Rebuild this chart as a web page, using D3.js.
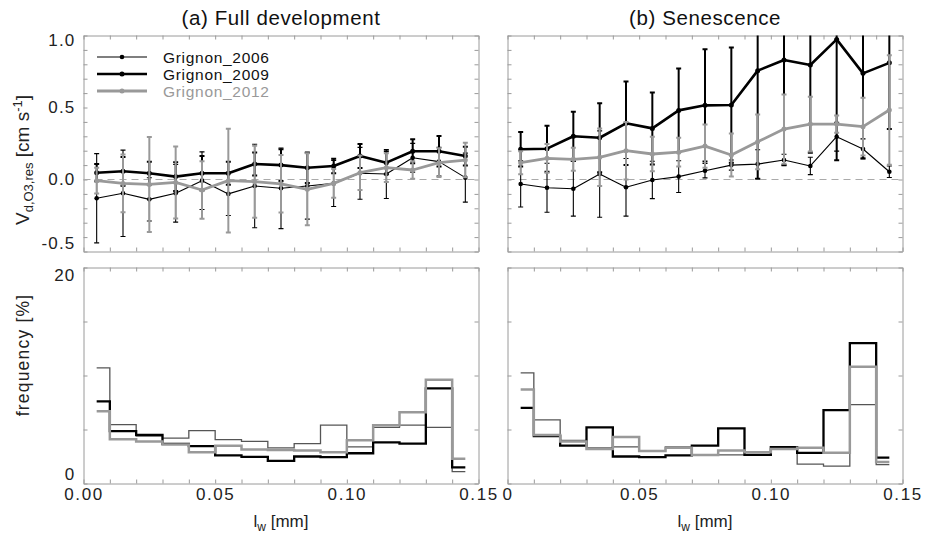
<!DOCTYPE html>
<html><head><meta charset="utf-8">
<script src="https://cdn.jsdelivr.net/npm/d3@7"></script>
<style>
body{margin:0;background:#fff;}
svg{display:block;font-family:"Liberation Sans",Arial,Helvetica,sans-serif;}
</style></head><body>
<svg id="c" width="925" height="542"></svg>
<script>
// ---------- data ----------
const lw = [0.005,0.015,0.025,0.035,0.045,0.055,0.065,0.075,0.085,0.095,0.105,0.115,0.125,0.135,0.145];
const seriesNames = ["Grignon_2006","Grignon_2009","Grignon_2012"];

// (a) Full development : deposition velocity (mean, error)
const v2006Full = [-0.13,-0.096,-0.138,-0.096,-0.008,-0.10,-0.045,-0.061,-0.045,-0.027,0.043,0.038,0.151,0.124,0.013];
const e2006Full = [0.31,0.30,0.15,0.20,0.20,0.15,0.29,0.28,0.23,0.16,0.18,0.17,0.10,0.10,0.17];
const v2009Full = [0.047,0.057,0.043,0.02,0.043,0.043,0.108,0.10,0.082,0.094,0.163,0.117,0.196,0.196,0.163];
const e2009Full = [0.06,0.10,0.08,0.10,0.12,0.08,0.08,0.11,0.106,0.05,0.083,0.08,0.083,0.106,0.065];
const v2012Full = [-0.008,-0.027,-0.034,-0.02,-0.073,-0.008,-0.015,-0.03,-0.068,-0.027,0.047,0.082,0.066,0.117,0.135];
const e2012Full = [0.09,0.20,0.33,0.25,0.20,0.36,0.25,0.20,0.25,0.10,0.12,0.10,0.06,0.10,0.12];

// (b) Senescence
const v2006Sen = [-0.031,-0.057,-0.064,0.038,-0.054,-0.003,0.02,0.061,0.10,0.107,0.135,0.094,0.297,0.212,0.054];
const e2006Sen = [0.16,0.17,0.19,0.30,0.20,0.13,0.11,0.05,0.035,0.10,0.04,0.06,0.10,0.07,0.04];
const v2009Sen = [0.21,0.214,0.30,0.29,0.39,0.355,0.48,0.515,0.517,0.756,0.83,0.795,0.973,0.737,0.81];
const e2009Sen = [0.12,0.16,0.17,0.24,0.29,0.25,0.29,0.39,0.40,0.75,0.73,0.61,0.84,0.59,0.46];
const v2012Sen = [0.117,0.147,0.14,0.154,0.20,0.177,0.19,0.232,0.17,0.262,0.35,0.385,0.385,0.367,0.483];
const e2012Sen = [0.08,0.10,0.08,0.20,0.20,0.12,0.10,0.15,0.15,0.19,0.24,0.19,0.06,0.20,0.38];

// frequency [%]
const f2006Full = [10.7,5.46,4.4,4.2,4.9,4.07,3.9,3.3,3.7,5.4,3.4,5.2,5.4,5.2,1.1];
const f2009Full = [7.6,4.85,4.5,3.67,3.46,2.6,2.47,2.1,2.5,2.45,2.8,3.8,3.7,8.8,1.5];
const f2012Full = [6.7,4.1,3.9,3.6,2.9,3.5,3.15,3.1,3.05,2.9,4.0,5.4,6.6,9.6,2.3];
const f2006Sen = [10.25,5.9,4.0,3.3,3.4,3.05,3.4,2.65,2.65,2.9,3.2,1.8,1.6,7.3,1.75];
const f2009Sen = [7.0,4.4,3.5,5.2,2.5,2.45,2.6,3.5,5.1,2.65,3.36,2.84,6.8,13.0,2.4];
const f2012Sen = [8.7,4.5,3.9,3.2,4.3,3.0,3.3,2.65,3.05,2.9,3.2,3.3,2.84,10.8,2.0];

// ticks / labels
const xMinorTicks = [0,0.01,0.02,0.03,0.04,0.05,0.06,0.07,0.08,0.09,0.10,0.11,0.12,0.13,0.14,0.15];
const xMajorTicks = [0,0.05,0.10,0.15];
const xLabelsA = ["0.00","0.05","0.10","0.15"];
const xLabelsB = ["0","0.05","0.10","0.15"];
const vTicksMinor = [-0.5,-0.4,-0.3,-0.2,-0.1,0,0.1,0.2,0.3,0.4,0.5,0.6,0.7,0.8,0.9,1.0];
const vTickLabels = [-0.5,0.0,0.5,1.0];
const fTicks = [0,5,10,15,20];
const fTickLabels = [0,20];
const titles = ["(a) Full development","(b) Senescence"];

// ---------- layout ----------
const svg = d3.select("#c");
const topY = d3.scaleLinear().domain([-0.5,1.0]).range([251.5,35.5]);
const botY = d3.scaleLinear().domain([0,20]).range([483.5,267.5]);
const styles = [
  {c:"#000", w:1.1, ew:1.1, r:2.3},
  {c:"#000", w:2.6, ew:2.0, r:2.5},
  {c:"#999", w:2.8, ew:2.0, r:2.5}
];
const histStyles = [{c:"#555",w:1.3},{c:"#000",w:2.3},{c:"#999",w:2.5}];
const frameColor = "#9a9a9a";

const panels = [
  {x0:83.5, x1:478.5, v:[v2006Full,v2009Full,v2012Full], e:[e2006Full,e2009Full,e2012Full],
   f:[f2006Full,f2009Full,f2012Full], xl:xLabelsA, yl:true, legend:true, title:titles[0]},
  {x0:507.5, x1:902.5, v:[v2006Sen,v2009Sen,v2012Sen], e:[e2006Sen,e2009Sen,e2012Sen],
   f:[f2006Sen,f2009Sen,f2012Sen], xl:xLabelsB, yl:false, legend:false, title:titles[1]}
];

function styleAxis(g){
  g.selectAll("path.domain").attr("stroke",frameColor).attr("stroke-width",1);
  g.selectAll(".tick line").attr("stroke",frameColor).attr("stroke-width",1);
}

panels.forEach((p,pi)=>{
  const x = d3.scaleLinear().domain([0,0.15]).range([p.x0,p.x1]);
  const g = svg.append("g");

  // frames with inward ticks
  [[topY,vTicksMinor],[botY,fTicks]].forEach(([ys,yt])=>{
    const [yb,yt0] = ys.range();
    g.append("g").attr("transform",`translate(0,${yb})`)
      .call(d3.axisBottom(x).tickValues(xMinorTicks).tickSize(-4).tickSizeOuter(0).tickFormat(""))
      .call(styleAxis);
    g.append("g").attr("transform",`translate(0,${yt0})`)
      .call(d3.axisTop(x).tickValues(xMinorTicks).tickSize(-4).tickSizeOuter(0).tickFormat(""))
      .call(styleAxis);
    g.append("g").attr("transform",`translate(${p.x0},0)`)
      .call(d3.axisLeft(ys).tickValues(yt).tickSize(-4).tickSizeOuter(0).tickFormat(""))
      .call(styleAxis);
    g.append("g").attr("transform",`translate(${p.x1},0)`)
      .call(d3.axisRight(ys).tickValues(yt).tickSize(-4).tickSizeOuter(0).tickFormat(""))
      .call(styleAxis);
  });

  // zero dashed line
  g.append("line").attr("x1",p.x0).attr("x2",p.x1)
    .attr("y1",topY(0)).attr("y2",topY(0))
    .attr("stroke","#aaa").attr("stroke-width",1.2).attr("stroke-dasharray","7,5");

  // clip
  const cid = "clip"+pi;
  svg.append("clipPath").attr("id",cid).append("rect")
    .attr("x",p.x0).attr("y",topY(1.0)).attr("width",p.x1-p.x0).attr("height",topY(-0.5)-topY(1.0));
  const gc = g.append("g").attr("clip-path",`url(#${cid})`);

  const line = d3.line().x((d,i)=>x(lw[i])).y(d=>topY(d));
  [0,1,2].forEach(si=>{
    const st = styles[si];
    const vals = p.v[si], errs = p.e[si];
    const sg = gc.append("g");
    const eb = sg.selectAll("g.eb").data(vals).join("g");
    eb.append("line").attr("x1",(d,i)=>x(lw[i])).attr("x2",(d,i)=>x(lw[i]))
      .attr("y1",(d,i)=>topY(d-errs[i])).attr("y2",(d,i)=>topY(d+errs[i]))
      .attr("stroke",st.c).attr("stroke-width",st.ew);
    [-1,1].forEach(s=>{
      eb.append("line").attr("x1",(d,i)=>x(lw[i])-2.5).attr("x2",(d,i)=>x(lw[i])+2.5)
        .attr("y1",(d,i)=>topY(d+s*errs[i])).attr("y2",(d,i)=>topY(d+s*errs[i]))
        .attr("stroke",st.c).attr("stroke-width",st.ew);
    });
    sg.append("path").datum(vals).attr("d",line).attr("fill","none")
      .attr("stroke",st.c).attr("stroke-width",st.w).attr("stroke-linejoin","round");
    sg.selectAll("circle").data(vals).join("circle")
      .attr("cx",(d,i)=>x(lw[i])).attr("cy",d=>topY(d)).attr("r",st.r).attr("fill",st.c);
  });

  // histograms
  const hline = d3.line().x((d,i)=>x(lw[i])).y(d=>botY(d)).curve(d3.curveStep);
  [0,1,2].forEach(si=>{
    g.append("path").datum(p.f[si]).attr("d",hline).attr("fill","none")
      .attr("stroke",histStyles[si].c).attr("stroke-width",histStyles[si].w);
  });

  // x tick labels
  const xl = g.append("g").attr("transform",`translate(0,${botY(0)})`)
    .call(d3.axisBottom(x).tickValues(xMajorTicks).tickSize(0).tickPadding(4)
      .tickFormat((d,i)=>p.xl[i]));
  xl.select("path.domain").remove();
  xl.selectAll("text").attr("font-size",17).attr("fill","#222")
    .attr("font-family","Liberation Sans, Arial, sans-serif").style("letter-spacing","1.6px");

  // x title
  const xt = g.append("text").attr("x",(p.x0+p.x1)/2).attr("y",527)
    .attr("text-anchor","middle").attr("font-size",17).attr("fill","#222");
  xt.append("tspan").text("l");
  xt.append("tspan").attr("font-size",12).attr("dy",4).text("w");
  xt.append("tspan").attr("dy",-4).text(" [mm]");

  // title
  g.append("text").attr("x",(p.x0+p.x1)/2).attr("y",25).attr("text-anchor","middle")
    .attr("font-size",20.5).attr("fill","#111").style("letter-spacing","0.6px").text(p.title);

  if(p.yl){
    const ya = g.append("g").attr("transform",`translate(${p.x0},0)`)
      .call(d3.axisLeft(topY).tickValues(vTickLabels).tickSize(0).tickPadding(8).tickFormat(d=>d.toFixed(1)));
    ya.select("path.domain").remove();
    ya.selectAll("text").attr("font-size",17).attr("fill","#222").style("letter-spacing","1.2px")
      .attr("transform",d=> d===1.0 ? "translate(0,5)" : d===-0.5 ? "translate(0,-8)" : null);
    const yb = g.append("g").attr("transform",`translate(${p.x0},0)`)
      .call(d3.axisLeft(botY).tickValues(fTickLabels).tickSize(0).tickPadding(8).tickFormat(d=>String(d)));
    yb.select("path.domain").remove();
    yb.selectAll("text").attr("font-size",17).attr("fill","#222").style("letter-spacing","1.2px")
      .attr("transform",d=> d===20 ? "translate(0,8)" : "translate(0,-9)");

    // y titles
    const t1 = svg.append("text").attr("transform","translate(29,160) rotate(-90)")
      .attr("text-anchor","middle").attr("font-size",19).attr("fill","#222");
    t1.append("tspan").text("V");
    t1.append("tspan").attr("font-size",13).attr("dy",4).text("d,O3,res");
    t1.append("tspan").attr("dy",-4).text(" [cm s");
    t1.append("tspan").attr("font-size",13).attr("dy",-7).text("-1");
    t1.append("tspan").attr("dy",7).text("]");
    svg.append("text").attr("transform","translate(29,355) rotate(-90)")
      .attr("text-anchor","middle").attr("font-size",17.5).attr("fill","#222")
      .style("letter-spacing","1.2px").text("frequency [%]");
  }

  if(p.legend){
    const lg = g.append("g");
    seriesNames.forEach((n,si)=>{
      const yy = 57 + si*17;
      lg.append("line").attr("x1",97).attr("x2",147).attr("y1",yy).attr("y2",yy)
        .attr("stroke",styles[si].c).attr("stroke-width",styles[si].w);
      lg.append("circle").attr("cx",122).attr("cy",yy).attr("r",styles[si].r).attr("fill",styles[si].c);
      lg.append("text").attr("x",163).attr("y",yy+5.5).attr("font-size",15.5)
        .style("letter-spacing","0.7px")
        .attr("fill",si===2?"#999":"#111").text(n);
    });
  }
});
</script>
</body></html>
